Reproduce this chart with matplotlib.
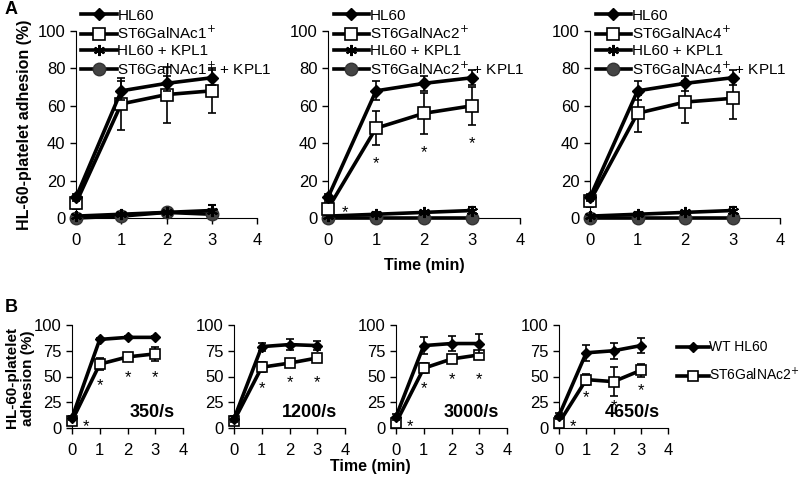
import matplotlib
matplotlib.use("Agg")
from matplotlib import pyplot as plt
from matplotlib.lines import Line2D
from matplotlib.transforms import offset_copy
import numpy as np

plt.rcParams['font.family'] = ['Liberation Sans', 'DejaVu Sans']

t = [0, 1, 2, 3]

# panel A data (static adhesion)
hl60 = [11, 68, 72, 75]
hl60_err = [2, 5, 4, 4]
st_names = ['ST6GalNAc1', 'ST6GalNAc2', 'ST6GalNAc4']
st_vals = [[8, 61, 66, 68], [5, 48, 56, 60], [9, 56, 62, 64]]
st_errs = [[3, 14, 15, 12], [3, 9, 11, 10], [3, 10, 11, 11]]
hl60_kpl1 = [[1, 2, 3, 4], [1, 2, 3, 4], [1, 2, 3, 4]]
hl60_kpl1_err = [[1, 1, 2, 3], [1, 1, 1, 2], [1, 1, 1, 2]]
st_kpl1 = [[0, 1, 3, 2], [0, 0, 0, 0], [0, 0, 0, 0]]
st_kpl1_err = [[1, 1, 1, 1], [0, 0, 0, 0], [0, 0, 0, 0]]
a_stars = [[], [(0.35, 5), (1, 31), (2, 37), (3, 42)], []]

# panel B data (flow, shear rates)
shear = ['350/s', '1200/s', '3000/s', '4650/s']
wt_b = [[10, 86, 88, 88], [9, 79, 81, 80], [11, 80, 82, 82], [12, 73, 75, 80]]
wt_b_err = [[2, 1, 1, 1], [3, 4, 5, 4], [3, 8, 7, 9], [3, 8, 8, 7]]
st_b = [[7, 62, 69, 72], [7, 59, 63, 68], [5, 58, 67, 71], [5, 47, 45, 56]]
st_b_err = [[3, 6, 4, 7], [3, 5, 2, 4], [3, 5, 3, 4], [3, 5, 14, 6]]
b_stars = [[(0.5, 5), (1, 45), (2, 53), (3, 53)],
           [(1, 42), (2, 48), (3, 48)],
           [(0.5, 5), (1, 42), (2, 51), (3, 51)],
           [(0.5, 5), (1, 33), (2, 25), (3, 40)]]

fig = plt.figure(figsize=(8, 4.78), dpi=100)
W, H = 800.0, 478.0

def ax_px(x0, x1, ytop, ybot):
    return fig.add_axes([x0 / W, 1 - ybot / H, (x1 - x0) / W, (ybot - ytop) / H])

def style(ax, yticks):
    ax.spines['top'].set_visible(False)
    ax.spines['right'].set_visible(False)
    ax.set_xlim(0, 4)
    ax.set_ylim(0, 100)
    ax.set_xticks([0, 1, 2, 3, 4])
    ax.set_yticks(yticks)
    ax.tick_params(direction='out', length=4, labelsize=12, width=1)
    ax.tick_params(axis='x', pad=7)
    ax.patch.set_alpha(0)

def stars(ax, pts):
    # asterisk glyph sits high in the line, pull it down a little
    tr = offset_copy(ax.transData, fig=fig, y=-4, units='dots')
    for (sx, sy) in pts:
        ax.text(sx, sy, '*', ha='center', va='center', fontsize=12, transform=tr)

lw = 2.6
ek = dict(ecolor='black', elinewidth=1.2, capsize=3, capthick=1.2, clip_on=False)

sq_a = dict(marker='s', ms=9, mfc='white', mec='black', mew=1.2)
dm_a = dict(marker='D', ms=6, mfc='black', mec='black')
ast_a = dict(marker=(6, 2, 0), ms=8, mew=1.5, mec='black')
ci_a = dict(marker='o', ms=9, mfc='#444444', mec='#333333')

a_pos = [(76, 257), (328, 520), (590, 780)]
for i, (x0, x1) in enumerate(a_pos):
    ax = ax_px(x0, x1, 31, 218)
    style(ax, [0, 20, 40, 60, 80, 100])
    lab = st_names[i] + r'$^{+}$'
    ax.errorbar(t, st_kpl1[i], yerr=st_kpl1_err[i], color='black', lw=lw, zorder=3, **ci_a, **ek)
    ax.errorbar(t, hl60_kpl1[i], yerr=hl60_kpl1_err[i], color='black', lw=lw, zorder=3, **ast_a, **ek)
    ax.errorbar(t, st_vals[i], yerr=st_errs[i], color='black', lw=lw, zorder=4, **sq_a, **ek)
    ax.errorbar(t, hl60, yerr=hl60_err, color='black', lw=lw, zorder=5, **dm_a, **ek)
    stars(ax, a_stars[i])
    handles = [Line2D([], [], color='black', lw=lw, **dm_a),
               Line2D([], [], color='black', lw=lw, **sq_a),
               Line2D([], [], color='black', lw=lw, **ast_a),
               Line2D([], [], color='black', lw=lw, **ci_a)]
    labels = ['HL60', lab, 'HL60 + KPL1', lab + ' + KPL1']
    ax.legend(handles, labels, loc='upper left', bbox_to_anchor=(0.03, 1.12),
              frameon=False, fontsize=11, handlelength=2.3, handletextpad=0.05,
              labelspacing=0.14, borderaxespad=0, borderpad=0)
    if i == 0:
        ax.set_ylabel('HL-60-platelet adhesion (%)', fontsize=11.5, fontweight='bold')
    if i == 1:
        ax.set_xlabel('Time (min)', fontsize=11.5, fontweight='bold', labelpad=7)

sq_b = dict(marker='s', ms=7, mfc='white', mec='black', mew=1.2)
dm_b = dict(marker='D', ms=5, mfc='black', mec='black')

b_pos = [(72, 183), (234, 345), (396, 507), (559, 668)]
for i, (x0, x1) in enumerate(b_pos):
    ax = ax_px(x0, x1, 325, 428)
    style(ax, [0, 25, 50, 75, 100])
    ax.errorbar(t, st_b[i], yerr=st_b_err[i], color='black', lw=lw, zorder=4, **sq_b, **ek)
    ax.errorbar(t, wt_b[i], yerr=wt_b_err[i], color='black', lw=lw, zorder=5, **dm_b, **ek)
    stars(ax, b_stars[i])
    ax.text(3.72, 15, shear[i], ha='right', va='center', fontsize=13, fontweight='bold')
    if i == 3:
        handles = [Line2D([], [], color='black', lw=lw, **dm_b),
                   Line2D([], [], color='black', lw=lw, **sq_b)]
        ax.legend(handles, ['WT HL60', r'ST6GalNAc2$^{+}$'], loc='upper left',
                  bbox_to_anchor=(1.08, 0.85), frameon=False, fontsize=10,
                  handlelength=2.3, handletextpad=0.05, labelspacing=0.85,
                  borderaxespad=0, borderpad=0)

fig.text(20 / W, 1 - 378 / H, 'HL-60-platelet\nadhesion (%)', rotation=90,
         ha='center', va='center', multialignment='center', fontsize=11,
         fontweight='bold', linespacing=1.15)
fig.text(370 / W, 1 - 467 / H, 'Time (min)', ha='center', va='center',
         fontsize=11.5, fontweight='bold')
fig.text(5 / W, 1 - 10 / H, 'A', ha='left', va='center', fontsize=13, fontweight='bold')
fig.text(5 / W, 1 - 308 / H, 'B', ha='left', va='center', fontsize=13, fontweight='bold')

fig.savefig('out.png', dpi=100)
